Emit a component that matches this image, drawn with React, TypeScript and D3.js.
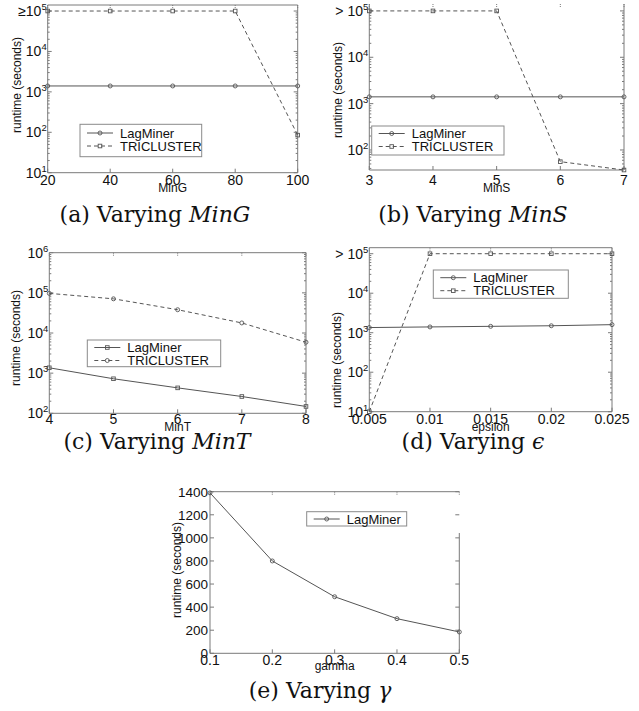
import * as d3 from "d3";

// (a) varying MinG
const minGValues = [20, 40, 60, 80, 100];
const minGLag = [1400, 1400, 1400, 1400, 1400];
const minGTri = [100000, 100000, 100000, 100000, 85];

// (b) varying MinS
const minSValues = [3, 4, 5, 6, 7];
const minSLag = [1400, 1400, 1400, 1400, 1400];
const minSTri = [100000, 100000, 100000, 56, 37];

// (c) varying MinT
const minTValues = [4, 5, 6, 7, 8];
const minTLag = [1360, 725, 430, 262, 148];
const minTTri = [97000, 71000, 38000, 17800, 5900];

// (d) varying epsilon
const epsValues = [0.005, 0.01, 0.015, 0.02, 0.025];
const epsLabels = ["0.005", "0.01", "0.015", "0.02", "0.025"];
const epsLag = [1350, 1400, 1450, 1500, 1600];
const epsTri = [10, 100000, 100000, 100000, 100000];

// (e) varying gamma
const gammaValues = [0.1, 0.2, 0.3, 0.4, 0.5];
const gammaLabels = ["0.1", "0.2", "0.3", "0.4", "0.5"];
const gammaLag = [1390, 800, 490, 300, 185];
const gammaTicks = [0, 200, 400, 600, 800, 1000, 1200, 1400];

const AXIS = "#7a7a7a";
const LINE = "#555";
const TEXT = "#111";
const SANS = "'Liberation Sans', Arial, sans-serif";
const SERIF = "'DejaVu Serif', serif";

type Marker = "circle" | "square";
type Series = { name: string; values: number[]; dashed: boolean; marker: Marker };
type Box = { left: number; right: number; top: number; bottom: number };

function Mark({ x, y, kind }: { x: number; y: number; kind: Marker }) {
  if (kind === "circle")
    return <circle cx={x} cy={y} r={2} fill="none" stroke={LINE} strokeWidth={0.9} />;
  return <rect x={x - 1.8} y={y - 1.8} width={3.6} height={3.6} fill="none" stroke={LINE} strokeWidth={0.9} />;
}

function Legend({ x, y, w, h, rowYs, series }: { x: number; y: number; w: number; h: number; rowYs: number[]; series: Series[] }) {
  return (
    <g>
      <rect x={x} y={y} width={w} height={h} fill="white" stroke="#8a8a8a" strokeWidth={1} />
      {series.map((s, i) => (
        <g key={s.name}>
          <line x1={x + 7} x2={x + 33} y1={rowYs[i]} y2={rowYs[i]} stroke={LINE} strokeDasharray={s.dashed ? "4,3" : undefined} />
          <Mark x={x + 20} y={rowYs[i]} kind={s.marker} />
          <text x={x + 40} y={rowYs[i] + 4.5} fontSize={13} fill={TEXT}>{s.name}</text>
        </g>
      ))}
    </g>
  );
}

type PanelProps = {
  box: Box;
  xs: number[];
  xLabels: string[];
  xLabelY: number;
  xTitle: string;
  xTitleY: number;
  yLog: boolean;
  yDomain: [number, number];
  yTicks: number[];
  topPrefix?: string;
  series: Series[];
  legend: { x: number; y: number; w: number; h: number; rowYs: number[] };
  yTitle: { x: number; y: number };
  caption: { x: number; y: number; label: string; math: string };
  noTop?: boolean;
  rightFrom?: number;
};

function Panel(p: PanelProps) {
  const { box } = p;
  const x = d3.scaleLinear().domain([p.xs[0], p.xs[p.xs.length - 1]]).range([box.left, box.right]);
  const y = (p.yLog ? d3.scaleLog() : d3.scaleLinear()).domain(p.yDomain).range([box.bottom, box.top]);

  const minor: number[] = [];
  if (p.yLog) {
    const lo = Math.floor(Math.log10(p.yDomain[0]));
    const hi = Math.ceil(Math.log10(p.yDomain[1]));
    for (let d = lo; d <= hi; d++)
      for (let k = 2; k <= 9; k++) {
        const v = k * Math.pow(10, d);
        if (v > p.yDomain[0] && v < p.yDomain[1]) minor.push(v);
      }
  }

  const line = d3
    .line<number>()
    .x((_, i) => x(p.xs[i]))
    .y((v) => y(v));

  return (
    <g fontFamily={SANS}>
      {/* frame */}
      {!p.noTop && <line x1={box.left} x2={box.right} y1={box.top} y2={box.top} stroke={AXIS} />}
      <line x1={box.left} x2={box.right} y1={box.bottom} y2={box.bottom} stroke={AXIS} />
      <line x1={box.left} x2={box.left} y1={box.top} y2={box.bottom} stroke={AXIS} />
      <line x1={box.right} x2={box.right} y1={p.rightFrom ?? box.top} y2={box.bottom} stroke={AXIS} />

      {/* x ticks */}
      {p.xs.map((v, i) => (
        <g key={"xt" + i}>
          <line x1={x(v)} x2={x(v)} y1={box.bottom} y2={box.bottom - 4} stroke={AXIS} />
          <line x1={x(v)} x2={x(v)} y1={box.top} y2={box.top + 4} stroke={AXIS} strokeDasharray="1,1" />
          <text x={x(v)} y={p.xLabelY} textAnchor="middle" fontSize={14} fill={TEXT}>{p.xLabels[i]}</text>
        </g>
      ))}

      {/* y ticks */}
      {minor.map((v, i) => (
        <g key={"mn" + i}>
          <line x1={box.left} x2={box.left + 2} y1={y(v)} y2={y(v)} stroke={AXIS} />
          <line x1={box.right} x2={box.right - 2} y1={y(v)} y2={y(v)} stroke={AXIS} />
        </g>
      ))}
      {p.yTicks.map((v, i) => (
        <g key={"yt" + i}>
          <line x1={box.left} x2={box.left + 4} y1={y(v)} y2={y(v)} stroke={AXIS} />
          <line x1={box.right} x2={box.right - 4} y1={y(v)} y2={y(v)} stroke={AXIS} />
          {p.yLog ? (
            <text x={box.left - 1} y={y(v) + 5} textAnchor="end" fontSize={14} fill={TEXT}>
              {i === p.yTicks.length - 1 && p.topPrefix ? p.topPrefix : ""}10
              <tspan dy={-6} fontSize={9.5}>{Math.round(Math.log10(v))}</tspan>
            </text>
          ) : (
            <text x={box.left - 2} y={y(v) + 5} textAnchor="end" fontSize={13.5} fill={TEXT}>{v}</text>
          )}
        </g>
      ))}

      {/* series */}
      {p.series.map((s) => (
        <g key={s.name}>
          <path d={line(s.values) ?? ""} fill="none" stroke={LINE} strokeWidth={1} strokeDasharray={s.dashed ? "4,3" : undefined} />
          {s.values.map((v, i) => (
            <Mark key={i} x={x(p.xs[i])} y={y(v)} kind={s.marker} />
          ))}
        </g>
      ))}

      <Legend {...p.legend} series={p.series} />

      <text x={(box.left + box.right) / 2} y={p.xTitleY} textAnchor="middle" fontSize={12} fill={TEXT}>{p.xTitle}</text>
      <text
        transform={`translate(${p.yTitle.x},${p.yTitle.y}) rotate(-90)`}
        textAnchor="middle"
        dominantBaseline="central"
        fontSize={12}
        fill={TEXT}
      >
        runtime (seconds)
      </text>
      <text x={p.caption.x} y={p.caption.y} textAnchor="middle" fontFamily={SERIF} fontSize={22} fill={TEXT}>
        {p.caption.label} <tspan fontStyle="italic">{p.caption.math}</tspan>
      </text>
    </g>
  );
}

const logTicks = (lo: number, hi: number) => d3.range(lo, hi + 1).map((e) => Math.pow(10, e));

export default function App() {
  const lagTri = (lag: number[], tri: number[], lagMark: Marker, triMark: Marker): Series[] => [
    { name: "LagMiner", values: lag, dashed: false, marker: lagMark },
    { name: "TRICLUSTER", values: tri, dashed: true, marker: triMark },
  ];

  return (
    <svg width={639} height={711} style={{ position: "absolute", left: 0, top: 0, background: "white" }}>
      <Panel
        box={{ left: 47.7, right: 297.7, top: 5, bottom: 172.7 }}
        xs={minGValues}
        xLabels={minGValues.map(String)}
        xLabelY={185}
        xTitle="MinG"
        xTitleY={192}
        yLog
        yDomain={[10, 141000]}
        yTicks={logTicks(1, 5)}
        topPrefix="≥"
        series={lagTri(minGLag, minGTri, "circle", "square")}
        legend={{ x: 80, y: 124.3, w: 121.7, h: 32.4, rowYs: [133, 146] }}
        yTitle={{ x: 17, y: 85 }}
        caption={{ x: 155, y: 222, label: "(a) Varying", math: "MinG" }}
      />
      <Panel
        box={{ left: 369.3, right: 624, top: 4, bottom: 170 }}
        xs={minSValues}
        xLabels={minSValues.map(String)}
        xLabelY={185}
        xTitle="MinS"
        xTitleY={192}
        yLog
        yDomain={[37, 141000]}
        yTicks={logTicks(2, 5)}
        topPrefix="> "
        series={lagTri(minSLag, minSTri, "circle", "square")}
        legend={{ x: 371.7, y: 126, w: 132.3, h: 29, rowYs: [133.5, 146.5] }}
        yTitle={{ x: 338, y: 90 }}
        caption={{ x: 473, y: 222, label: "(b) Varying", math: "MinS" }}
        noTop
      />
      <Panel
        box={{ left: 49.3, right: 306, top: 252.7, bottom: 413.3 }}
        xs={minTValues}
        xLabels={minTValues.map(String)}
        xLabelY={424}
        xTitle="MinT"
        xTitleY={431}
        yLog
        yDomain={[100, 1000000]}
        yTicks={logTicks(2, 6)}
        series={lagTri(minTLag, minTTri, "square", "circle")}
        legend={{ x: 87.3, y: 340, w: 133.4, h: 26.7, rowYs: [347.5, 360.5] }}
        yTitle={{ x: 16, y: 338 }}
        caption={{ x: 157, y: 449, label: "(c) Varying", math: "MinT" }}
      />
      <Panel
        box={{ left: 369.3, right: 612, top: 247.7, bottom: 411.7 }}
        xs={epsValues}
        xLabels={epsLabels}
        xLabelY={423.5}
        xTitle="epsilon"
        xTitleY={431}
        yLog
        yDomain={[10, 142000]}
        yTicks={logTicks(1, 5)}
        topPrefix="> "
        series={lagTri(epsLag, epsTri, "circle", "square")}
        legend={{ x: 433.3, y: 270, w: 135, h: 28.3, rowYs: [277.7, 290.7] }}
        yTitle={{ x: 336.5, y: 360 }}
        caption={{ x: 473, y: 449, label: "(d) Varying", math: "ϵ" }}
      />
      <Panel
        box={{ left: 210, right: 459.3, top: 491.7, bottom: 653.3 }}
        xs={gammaValues}
        xLabels={gammaLabels}
        xLabelY={665}
        xTitle="gamma"
        xTitleY={670}
        yLog={false}
        yDomain={[0, 1400]}
        yTicks={gammaTicks}
        series={[{ name: "LagMiner", values: gammaLag, dashed: false, marker: "circle" }]}
        legend={{ x: 306.7, y: 511.7, w: 100, h: 14.3, rowYs: [519] }}
        yTitle={{ x: 176.7, y: 570 }}
        caption={{ x: 320, y: 698, label: "(e) Varying", math: "γ" }}
        rightFrom={533}
      />
    </svg>
  );
}
